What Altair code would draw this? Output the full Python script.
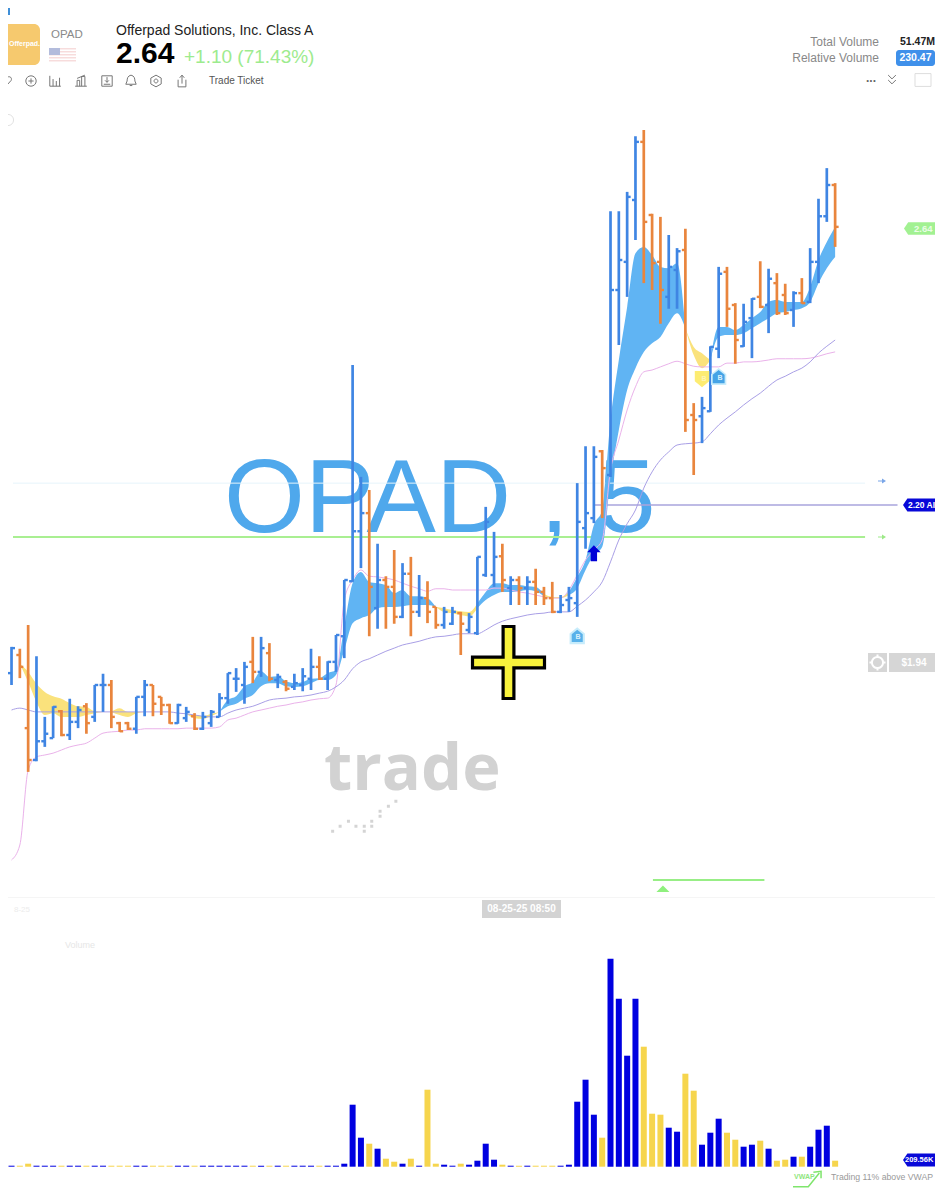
import altair as alt
import pandas as pd

# ---- data -----------------------------------------------------------------
highs = [1.973,1.970,2.008,1.958,1.861,1.878,1.872,1.890,1.878,1.883,
         1.912,1.930,1.920,1.853,1.853,1.893,1.920,1.912,1.893,1.882,
         1.882,1.877,1.867,1.869,1.872,1.899,1.931,1.939,1.949,1.989,
         1.989,1.979,1.930,1.920,1.930,1.939,1.970,1.958,1.950,1.992,
         2.080,2.424,2.245,2.224,2.138,2.086,2.128,2.107,2.117,2.088,
         2.078,2.037,2.037,2.037,2.029,2.027,2.117,2.197,2.157,2.138,
         2.086,2.086,2.086,2.098,2.069,2.077,2.056,2.069,2.235,2.294,
         2.294,2.288,2.670,2.670,2.701,2.790,2.800,2.666,2.661,2.632,
         2.611,2.642,2.363,2.373,2.454,2.581,2.581,2.523,2.522,2.531,
         2.590,2.578,2.571,2.554,2.542,2.563,2.611,2.690,2.739,2.715]
lows = [1.912,1.923,1.773,1.790,1.813,1.827,1.830,1.824,1.843,1.834,
        1.853,1.869,1.843,1.837,1.840,1.834,1.862,1.862,1.864,1.850,
        1.850,1.853,1.840,1.840,1.845,1.861,1.882,1.901,1.882,1.915,
        1.925,1.918,1.907,1.902,1.904,1.902,1.904,1.920,1.904,1.933,
        1.955,2.077,2.099,1.990,2.002,2.002,2.010,2.019,1.990,2.021,
        2.011,2.002,2.002,2.008,1.960,1.995,1.992,2.085,2.069,2.061,
        2.040,2.040,2.040,2.040,2.040,2.027,2.027,2.029,2.021,2.130,
        2.171,2.179,2.245,2.456,2.533,2.624,2.555,2.544,2.490,2.514,
        2.514,2.317,2.248,2.299,2.349,2.435,2.485,2.426,2.453,2.435,
        2.515,2.475,2.504,2.504,2.485,2.522,2.523,2.555,2.653,2.613]
opens = [1.931,1.960,1.843,1.792,1.822,1.827,1.870,1.832,1.853,1.878,
         1.861,1.912,1.912,1.851,1.851,1.842,1.893,1.912,1.893,1.880,
         1.851,1.859,1.862,1.842,1.851,1.861,1.891,1.922,1.912,1.949,
         1.933,1.963,1.920,1.917,1.909,1.912,1.922,1.941,1.922,1.949,
         1.990,2.078,2.158,2.187,2.035,2.080,2.069,2.021,2.090,2.029,
         2.051,2.037,2.008,2.010,2.027,2.000,1.995,2.088,2.088,2.118,
         2.067,2.080,2.067,2.077,2.061,2.051,2.029,2.048,2.043,2.163,
         2.179,2.286,2.248,2.544,2.589,2.688,2.781,2.664,2.589,2.533,
         2.576,2.608,2.344,2.342,2.350,2.450,2.573,2.520,2.454,2.499,
         2.533,2.520,2.555,2.536,2.512,2.539,2.525,2.589,2.662,2.712]
closes = [1.971,1.941,1.792,1.822,1.834,1.877,1.832,1.853,1.872,1.851,
          1.912,1.912,1.861,1.838,1.842,1.893,1.912,1.882,1.880,1.851,
          1.880,1.869,1.842,1.861,1.869,1.891,1.931,1.922,1.941,1.933,
          1.971,1.922,1.925,1.906,1.915,1.926,1.941,1.922,1.949,1.992,
          2.080,2.158,2.187,2.069,2.080,2.069,2.021,2.090,2.029,2.051,
          2.029,2.008,2.029,2.029,2.010,2.021,2.117,2.173,2.117,2.080,
          2.080,2.067,2.077,2.061,2.051,2.029,2.040,2.051,2.173,2.187,
          2.277,2.259,2.544,2.592,2.693,2.781,2.653,2.587,2.544,2.581,
          2.606,2.336,2.336,2.355,2.453,2.570,2.514,2.464,2.493,2.530,
          2.517,2.562,2.507,2.507,2.539,2.523,2.589,2.662,2.712,2.645]
volumes_m = [0.025,0.025,0.075,0.025,0.025,0.025,0.025,0.025,0.025,0.025,
             0.025,0.025,0.025,0.025,0.025,0.025,0.025,0.025,0.025,0.025,
             0.025,0.025,0.025,0.025,0.025,0.025,0.025,0.025,0.025,0.025,
             0.025,0.025,0.025,0.025,0.025,0.025,0.025,0.025,0.025,0.025,
             0.075,1.55,0.725,0.575,0.45,0.2,0.125,0.075,0.2,0.025,
             1.925,0.075,0.05,0.025,0.075,0.05,0.15,0.575,0.175,0.05,
             0.025,0.025,0.025,0.025,0.025,0.025,0.025,0.05,1.625,2.175,
             1.3,0.725,5.2,4.2,2.775,4.2,3.0,1.325,1.3,0.975,
             0.875,2.325,1.9,0.55,0.85,1.2,0.85,0.675,0.5,0.55,
             0.65,0.45,0.15,0.175,0.25,0.25,0.5,0.925,1.025,0.15]
# cloud: starts at the second bar
ema_fast = [1.946,1.917,1.885,1.864,1.867,1.861,1.861,1.861,1.864,1.867,
            1.869,1.869,1.864,1.861,1.867,1.869,1.869,1.869,1.869,1.869,
            1.866,1.859,1.858,1.862,1.869,1.888,1.894,1.910,1.917,1.934,
            1.925,1.926,1.918,1.915,1.917,1.922,1.923,1.931,1.936,2.005,
            2.075,2.093,2.077,2.075,2.072,2.059,2.064,2.054,2.054,2.051,
            2.037,2.029,2.027,2.024,2.022,2.043,2.061,2.075,2.075,2.072,
            2.072,2.070,2.069,2.054,2.051,2.051,2.061,2.085,2.112,2.168,
            2.192,2.336,2.432,2.517,2.603,2.613,2.600,2.581,2.579,2.587,
            2.483,2.440,2.419,2.432,2.485,2.485,2.480,2.488,2.499,2.509,
            2.525,2.528,2.525,2.525,2.525,2.549,2.592,2.621,2.645]
ema_slow = [1.946,1.933,1.914,1.901,1.894,1.890,1.883,1.878,1.877,1.870,
            1.869,1.869,1.875,1.869,1.869,1.869,1.869,1.869,1.869,1.869,
            1.866,1.864,1.862,1.866,1.869,1.878,1.882,1.890,1.896,1.910,
            1.915,1.915,1.910,1.909,1.910,1.915,1.920,1.920,1.928,1.968,
            2.011,2.019,2.024,2.035,2.037,2.037,2.038,2.040,2.040,2.040,
            2.037,2.035,2.032,2.030,2.029,2.035,2.048,2.056,2.061,2.061,
            2.062,2.064,2.062,2.058,2.053,2.053,2.056,2.067,2.096,2.120,
            2.133,2.240,2.320,2.384,2.419,2.445,2.459,2.469,2.491,2.507,
            2.483,2.453,2.443,2.432,2.469,2.472,2.472,2.475,2.483,2.491,
            2.499,2.507,2.509,2.512,2.515,2.525,2.555,2.579,2.597]
violet_line = [1.872,1.875,1.872,1.869,1.869,1.869,1.869,1.869,1.869,1.869,
               1.869,1.869,1.869,1.869,1.869,1.869,1.869,1.869,1.869,1.869,
               1.867,1.866,1.864,1.862,1.861,1.861,1.867,1.872,1.875,1.878,
               1.883,1.888,1.890,1.891,1.893,1.894,1.896,1.899,1.902,1.909,
               1.920,1.938,1.949,1.954,1.960,1.966,1.971,1.976,1.979,1.982,
               1.986,1.989,1.990,1.992,1.994,1.994,1.994,2.000,2.008,2.014,
               2.018,2.021,2.024,2.026,2.027,2.029,2.029,2.029,2.038,2.048,
               2.061,2.077,2.109,2.144,2.170,2.192,2.227,2.253,2.272,2.285,
               2.296,2.298,2.299,2.301,2.314,2.328,2.339,2.349,2.360,2.370,
               2.379,2.390,2.400,2.406,2.413,2.419,2.429,2.443,2.454,2.464]
pink_line = [1.632,1.656,1.776,1.797,1.800,1.803,1.808,1.813,1.816,1.819,
             1.827,1.835,1.837,1.838,1.840,1.840,1.842,1.842,1.842,1.842,
             1.842,1.843,1.843,1.843,1.843,1.845,1.856,1.859,1.864,1.869,
             1.872,1.875,1.878,1.880,1.883,1.885,1.888,1.890,1.891,1.912,
             2.048,2.080,2.096,2.086,2.085,2.083,2.080,2.075,2.070,2.066,
             2.062,2.066,2.066,2.064,2.064,2.064,2.064,2.064,2.067,2.067,
             2.064,2.061,2.059,2.056,2.053,2.051,2.051,2.064,2.088,2.112,
             2.128,2.144,2.256,2.304,2.352,2.389,2.413,2.416,2.421,2.426,
             2.430,2.426,2.422,2.421,2.421,2.421,2.427,2.427,2.429,2.429,
             2.430,2.432,2.434,2.434,2.434,2.434,2.435,2.438,2.442,2.445]
level_prices = [2.235, 2.149]
level_colors = ["#e6f4fb", "#a9ef92"]
alert_price = [2.20]
alert_start = [70.0]
target_line = dict(k0=77.1, k1=90.5, price=1.600)
logo_dot_k = [38.6,39.5,40.5,41.4,42.4,42.4,43.3,43.3,44.3,44.3,45.3,46.2]
logo_dot_p = [1.678,1.686,1.694,1.686,1.686,1.678,1.694,1.686,1.710,1.702,1.718,1.726]

# ---- page geometry: the chart starts 8px into the page and is 927 wide ------
W, H = 927, 1180
PAGE = 8
x_scale = alt.Scale(domain=[0.178, 110.404], nice=False, zero=False)
price_scale = alt.Scale(domain=[1.1072, 2.9952], nice=False, zero=False)
vol_scale = alt.Scale(domain=[-0.5325, 28.9675], nice=False, zero=False)
X = lambda f: alt.X(f, type="quantitative", scale=x_scale, axis=None)
YP = lambda f: alt.Y(f, type="quantitative", scale=price_scale, axis=None)

BLUE, ORANGE = "#3f85e3", "#e9853d"
CLOUD_UP, CLOUD_DN = "#60b4f3", "#fae27c"
VOL_UP, VOL_DN = "#0000e0", "#f6d54d"
SANS = "Liberation Sans"

n = len(highs)
bars = pd.DataFrame({"k": range(n), "h": highs, "l": lows, "o": opens, "c": closes, "v": volumes_m})
bars["dir"] = ["up" if c >= o else "down" for o, c in zip(opens, closes)]
bars["kl"] = bars["k"] - 0.42
bars["kr"] = bars["k"] + 0.42
dir_dom = ["up", "down"]


def cloud_rows():
    rows, seg, side, cur = [], 0, None, []

    def flush():
        nonlocal seg, cur
        if side is not None:
            for r in cur:
                rows.append(dict(r, seg=seg, side=side))
        seg += 1

    for i, (f, s) in enumerate(zip(ema_fast, ema_slow)):
        r = {"k": i + 1, "top": max(f, s), "bot": min(f, s)}
        this = "up" if f > s else ("down" if f < s else None)
        if this is None:
            cur.append(r)
            flush()
            cur, side = [r], None
        elif side is None or side == this:
            side = this
            cur.append(r)
        else:
            cur.append(r)
            flush()
            cur, side = [r], this
    flush()
    return pd.DataFrame(rows)


def label(text, x, y, size=11, color="#000", weight="normal", align="left", font=SANS, baseline="middle", opacity=1):
    return alt.Chart(pd.DataFrame({"t": [text]})).mark_text(
        fontSize=size, color=color, fontWeight=weight, align=align, font=font, baseline=baseline, opacity=opacity
    ).encode(x=alt.value(x - PAGE), y=alt.value(y - PAGE), text="t:N")


def box(x0, y0, x1, y1, fill, corner=0):
    return alt.Chart(pd.DataFrame({"a": [0]})).mark_rect(fill=fill, cornerRadius=corner).encode(
        x=alt.value(x0 - PAGE), x2=alt.value(x1 - PAGE), y=alt.value(y0 - PAGE), y2=alt.value(y1 - PAGE)
    )


def glyph(path, x, y, half, fill=None, stroke=None, sw=1):
    kw = dict(shape=path, size=(2 * half) ** 2, opacity=1, filled=fill is not None)
    if fill:
        kw["fill"] = fill
    if stroke:
        kw["stroke"] = stroke
        kw["strokeWidth"] = sw
    else:
        kw["strokeWidth"] = 0
    return alt.Chart(pd.DataFrame({"a": [0]})).mark_point(**kw).encode(
        x=alt.value(x - PAGE), y=alt.value(y - PAGE)
    )


def glyph_at(path, k, price, half, fill, stroke=None, sw=1):
    kw = dict(shape=path, size=(2 * half) ** 2, opacity=1, filled=True, fill=fill)
    kw.update(dict(stroke=stroke, strokeWidth=sw) if stroke else dict(strokeWidth=0))
    return alt.Chart(pd.DataFrame({"k": [k], "p": [price]})).mark_point(**kw).encode(x=X("k"), y=YP("p"))


HOUSE = "M0,-1 L0.85,-0.3 L0.85,0.9 L-0.85,0.9 L-0.85,-0.3 Z"
SHIELD = "M-0.85,-0.9 L0.85,-0.9 L0.85,0.3 L0,1 L-0.85,0.3 Z"
UP_ARROW = "M0,-1 L0.85,-0.1 L0.4,-0.1 L0.4,1 L-0.4,1 L-0.4,-0.1 L-0.85,-0.1 Z"
R_ARROW = "M-1,-0.15 L0,-0.15 L0,-0.6 L1,0 L0,0.6 L0,0.15 L-1,0.15 Z"
TAG = "M-1,0 L-0.8,-0.3 L1,-0.3 L1,0.3 L-0.8,0.3 Z"
TRI = "M-1,0.5 L0,-0.5 L1,0.5 Z"
CROSS = ("M-0.15,-1 L0.15,-1 L0.15,-0.15 L1,-0.15 L1,0.15 L0.15,0.15 L0.15,1 "
         "L-0.15,1 L-0.15,0.15 L-1,0.15 L-1,-0.15 L-0.15,-0.15 Z")

toolbar = [
    (6, "M0,0.8 L-0.8,-0.1 C-1,-0.6 -0.4,-0.9 0,-0.4 C0.4,-0.9 1,-0.6 0.8,-0.1 Z"),
    (31, "M-0.8,0 A0.8,0.8 0 1,1 0.8,0 A0.8,0.8 0 1,1 -0.8,0 M0,-0.4 L0,0.4 M-0.4,0 L0.4,0"),
    (55, "M-0.8,-0.8 L-0.8,0.8 L0.9,0.8 M-0.3,0.8 L-0.3,-0.3 M0.2,0.8 L0.2,0 M0.7,0.8 L0.7,-0.5"),
    (81, "M-0.9,0.8 L0.9,0.8 M-0.6,0.8 L-0.6,-0.1 L-0.2,-0.1 L-0.2,0.8 M0.1,0.8 L0.1,-0.7 L0.6,-0.7 L0.6,0.8 M-0.6,-0.4 L0.6,-0.9"),
    (107, "M-0.8,-0.8 L0.8,-0.8 L0.8,0.8 L-0.8,0.8 Z M0,-0.6 L0,0.2 M-0.3,-0.1 L0,0.2 L0.3,-0.1 M-0.5,0.5 L0.5,0.5"),
    (131, "M0,-0.9 C-0.5,-0.8 -0.6,-0.4 -0.6,0 L-0.8,0.5 L0.8,0.5 L0.6,0 C0.6,-0.4 0.5,-0.8 0,-0.9 Z M-0.2,0.7 L0.2,0.7"),
    (156, "M0,-0.9 L0.8,-0.45 L0.8,0.45 L0,0.9 L-0.8,0.45 L-0.8,-0.45 Z M-0.3,0 A0.3,0.3 0 1,1 0.3,0 A0.3,0.3 0 1,1 -0.3,0"),
    (182, "M-0.6,-0.2 L-0.6,0.9 L0.6,0.9 L0.6,-0.2 M0,0.4 L0,-0.9 M-0.35,-0.5 L0,-0.9 L0.35,-0.5"),
]

layers = []
# giant symbol label sits under everything
layers.append(label("OPAD , 5", 224, 532, size=104, color="#4fa8ec", baseline="alphabetic"))

# level lines
for p, col in zip(level_prices, level_colors):
    layers.append(
        alt.Chart(pd.DataFrame({"p": [p], "k0": [0.178], "k1": [102.6]})).mark_rule(
            color=col, strokeWidth=2 if col == "#a9ef92" else 1
        ).encode(x=X("k0"), x2="k1:Q", y=YP("p"))
    )
layers.append(
    alt.Chart(pd.DataFrame({"p": alert_price, "k0": alert_start, "k1": [106.5]})).mark_rule(
        color="#a9a4dd", strokeWidth=1.4
    ).encode(x=X("k0"), x2="k1:Q", y=YP("p"))
)
layers.append(glyph(R_ARROW, 882, 481, 4, fill="#7aa6e8"))
layers.append(glyph(R_ARROW, 882, 537, 4, fill="#9ce987"))

# cloud
layers.append(
    alt.Chart(cloud_rows()).mark_area(interpolate="monotone", opacity=1).encode(
        x=X("k"), y=alt.Y("top:Q", scale=price_scale, axis=None, stack=None), y2="bot:Q",
        color=alt.Color("side:N", scale=alt.Scale(domain=dir_dom, range=[CLOUD_UP, CLOUD_DN]), legend=None),
        detail="seg:N",
    )
)
# slow average lines
line_df = pd.DataFrame({"k": range(n), "violet": violet_line, "pink": pink_line})
layers.append(alt.Chart(line_df).mark_line(color="#eab2ea", strokeWidth=1, interpolate="monotone").encode(x=X("k"), y=YP("pink")))
layers.append(alt.Chart(line_df).mark_line(color="#a99fe6", strokeWidth=1, interpolate="monotone").encode(x=X("k"), y=YP("violet")))

# OHLC bars
ohlc_color = alt.Color("dir:N", scale=alt.Scale(domain=dir_dom, range=[BLUE, ORANGE]), legend=None)
base = alt.Chart(bars)
layers.append(base.mark_rule(strokeWidth=2.7).encode(x=X("k"), y=YP("h"), y2="l:Q", color=ohlc_color))
layers.append(base.mark_rule(strokeWidth=2.4).encode(x=X("kl"), x2="k:Q", y=YP("o"), color=ohlc_color))
layers.append(base.mark_rule(strokeWidth=2.4).encode(x=X("k"), x2="kr:Q", y=YP("c"), color=ohlc_color))

# signal markers
layers.append(glyph_at(HOUSE, 68, 1.990, 9, "#c8ecfb"))
layers.append(glyph_at(HOUSE, 68, 1.990, 6.5, "#58b1ea"))
layers.append(label("B", 578, 637, size=7, color="#d9f1fc", weight="bold", align="center"))
layers.append(glyph_at(SHIELD, 83, 2.402, 8.5, "#fdec72"))
layers.append(label("B", 704, 379, size=7, color="#fff6b5", weight="bold", align="center"))
layers.append(glyph_at(HOUSE, 85, 2.405, 9, "#c8ecfb"))
layers.append(glyph_at(HOUSE, 85, 2.405, 7, "#45a3e6"))
layers.append(label("B", 720, 378, size=7, color="#d9f1fc", weight="bold", align="center"))
layers.append(glyph_at(UP_ARROW, 70, 2.123, 8, "#0000d6"))

# target bracket
layers.append(
    alt.Chart(pd.DataFrame([target_line])).mark_rule(color="#98ee86", strokeWidth=2).encode(
        x=X("k0"), x2="k1:Q", y=YP("price")
    )
)
layers.append(glyph_at(TRI, 78.3, 1.586, 6.5, "#8ff07e"))

# watermark
layers.append(label("trade", 324, 790, size=65, color="#d2d2d2", weight="bold", font="Open Sans", baseline="alphabetic"))
layers.append(
    alt.Chart(pd.DataFrame({"k": logo_dot_k, "p": logo_dot_p})).mark_point(
        shape="square", size=9, filled=True, color="#d4d4d4", opacity=1
    ).encode(x=X("k"), y=YP("p"))
)

# crosshair cursor
layers.append(glyph(CROSS, 508.5, 662.5, 36, fill="#f8f23c", stroke="#000000", sw=3.2))

# volume
layers.append(
    base.mark_bar(width=6).encode(
        x=X("k"), y=alt.Y("v:Q", scale=vol_scale, axis=None), y2=alt.datum(0),
        color=alt.Color("dir:N", scale=alt.Scale(domain=dir_dom, range=[VOL_UP, VOL_DN]), legend=None),
    )
)

# price tags
layers.append(glyph(TAG, 925, 505, 22, fill="#0808d8"))
layers.append(label("2.20 AI", 908, 505, size=8.5, color="#ffffff", weight="bold"))
layers.append(glyph(TAG, 925, 228.5, 21, fill="#a2f192"))
layers.append(label("2.64", 914, 228.5, size=9.5, color="#eafde6", weight="bold"))
layers.append(glyph(TAG, 925, 1160, 22, fill="#0808d8"))
layers.append(label("209.56K", 905, 1160, size=7.5, color="#ffffff", weight="bold"))
layers.append(box(868, 653, 887, 672, "#d6d6d6"))
layers.append(glyph("M-0.7,0 A0.7,0.7 0 1,1 0.7,0 A0.7,0.7 0 1,1 -0.7,0 M-1,0 L-0.7,0 M0.7,0 L1,0 M0,-1 L0,-0.7 M0,0.7 L0,1", 877.5, 662.5, 8, stroke="#ffffff", sw=2))
layers.append(box(889, 653, 943, 672, "#d6d6d6"))
layers.append(label("$1.94", 914, 663, size=10, color="#ffffff", weight="bold", align="center"))

# time axis area
layers.append(box(8, 897, 943, 898, "#f5f5f5"))
layers.append(box(482, 900, 561, 918, "#d3d3d3"))
layers.append(label("08-25-25 08:50", 521.5, 909, size=10, color="#ffffff", weight="bold", align="center"))
layers.append(label("8-25", 14, 910, size=8, color="#ececec"))
layers.append(label("Volume", 65, 945, size=9, color="#e6e6e6"))

# header
layers.append(box(8, 3, 10, 15, "#3f8fd8"))
layers.append(box(0, 24, 40, 65, "#f6c96e", corner=6))
layers.append(label("Offerpad.", 24.5, 44, size=7, color="#ffffff", weight="bold", align="center"))
layers.append(label("OPAD", 51, 35, size=11.5, color="#8a8a8a"))
for i in range(5):
    layers.append(box(49, 48 + 3 * i, 76, 49.5 + 3 * i, "#f7dcdc"))
layers.append(box(49, 48, 60, 55, "#b3bcdc"))
layers.append(label("Offerpad Solutions, Inc. Class A", 116, 31, size=14, color="#222222"))
layers.append(label("2.64", 116, 63, size=30, color="#000000", weight="bold", baseline="alphabetic"))
layers.append(label("+1.10 (71.43%)", 184, 63, size=19, color="#9deb8e", baseline="alphabetic"))
for x, path in toolbar:
    layers.append(glyph(path, x, 81, 6.5, stroke="#777777", sw=1))
layers.append(label("Trade Ticket", 209, 81, size=10, color="#555555"))
layers.append(label("Total Volume", 879, 42, size=12, color="#888888", align="right"))
layers.append(label("51.47M", 935, 42, size=10.5, color="#222222", align="right", weight="bold"))
layers.append(label("Relative Volume", 879, 58, size=12, color="#888888", align="right"))
layers.append(box(896, 50, 935, 66, "#3f90ea", corner=3))
layers.append(label("230.47", 915.5, 58, size=10.5, color="#ffffff", align="center", weight="bold"))
layers.append(label("...", 871, 78, size=12, color="#666666", align="center", weight="bold"))
layers.append(glyph("M-0.7,-0.9 L0,-0.2 L0.7,-0.9 M-0.7,0 L0,0.7 L0.7,0", 892, 80, 5.5, stroke="#777777", sw=1))
layers.append(glyph("M-1,-0.8 L1,-0.8 L1,0.8 L-1,0.8 Z", 923, 80, 8, stroke="#dddddd", sw=1))
layers.append(glyph("M-0.8,0 A0.8,0.8 0 1,1 0.8,0 A0.8,0.8 0 1,1 -0.8,0", 8, 120, 7, stroke="#e2e2e2", sw=1))

# VWAP footer
layers.append(label("VWAP", 794, 1177, size=7, color="#8fe67e", weight="bold"))
layers.append(glyph("M-1,0.45 L-0.1,0.45 L0.55,-0.35 M0.2,-0.4 L0.65,-0.45 L0.65,-0.05", 810, 1179, 17, stroke="#7fe56c", sw=1.5))
layers.append(label("Trading 11% above VWAP", 831, 1177, size=8.7, color="#9a9a9a"))

chart = (
    alt.layer(*layers)
    .resolve_scale(y="independent", color="independent")
    .properties(width=W, height=H, padding=0, autosize=alt.AutoSizeParams(type="none"), background="#ffffff")
    .configure_view(stroke=None)
)
chart.save("out.html", embed_options={"renderer": "svg", "actions": False})
